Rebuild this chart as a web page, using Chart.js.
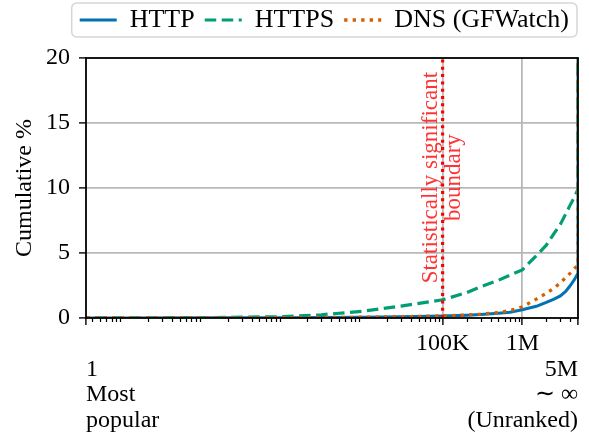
<!DOCTYPE html>
<html>
<head>
<meta charset="utf-8">
<script src="https://cdn.jsdelivr.net/npm/chart.js@4.4.1/dist/chart.umd.min.js"></script>
<style>
  html, body { margin: 0; padding: 0; background: #fff; }
  #wrap { width: 589px; height: 433px; position: relative; }
</style>
</head>
<body>
<div id="wrap"><canvas id="cdfChart"></canvas></div>
<script>
"use strict";

// Popularity rank (5M = unranked, the curves jump to 100% there)
const ranks    = [1, 10, 100, 1000, 3000, 1e4, 3e4, 1e5, 2e5, 3e5, 5e5, 7e5, 1e6, 1.5e6, 2e6, 2.5e6, 3e6, 3.5e6, 4e6, 4.5e6, 5e6, 5e6];
const httpPct  = [0, 0, 0.01, 0.02, 0.04, 0.06, 0.1, 0.16, 0.22, 0.27, 0.36, 0.45, 0.64, 0.9, 1.2, 1.45, 1.7, 2.05, 2.5, 2.95, 3.45, 100];
const httpsPct = [0, 0.01, 0.03, 0.1, 0.25, 0.52, 0.92, 1.4, 1.95, 2.4, 2.9, 3.3, 3.7, 4.8, 5.6, 6.5, 7.2, 8.0, 8.7, 9.3, 9.9, 100];
const dnsPct   = [0, 0, 0.01, 0.02, 0.04, 0.06, 0.1, 0.16, 0.23, 0.3, 0.42, 0.57, 0.85, 1.45, 1.9, 2.3, 2.7, 3.1, 3.45, 3.8, 4.05, 100];

const seriesNames = ['HTTP', 'HTTPS', 'DNS (GFWatch)'];
const yTicks = [0, 5, 10, 15, 20];
const xMin = 3.35, xMax = 5e6;
const boundaryRank = 1e5;
const boundaryText = ['Statistically significant', 'boundary'];

// Tick labels on the rank axis
const xTickLabels = new Map([
    [xMin, ['', '1', 'Most', 'popular']],
    [1e5, '100K'],
    [1e6, '1M'],
    [xMax, ['', '5M', '\u223C \u221E', '(Unranked)']]
]);

// Minor log ticks (2..9 x 10^n) inside the range
const minorTicks = [];
for (let n = 0; n <= 6; n++) {
    for (let k = 2; k <= 9; k++) {
        const v = k * Math.pow(10, n);
        if (v > xMin && v < xMax && !xTickLabels.has(v)) minorTicks.push(v);
    }
}
const allXTicks = [...xTickLabels.keys(), ...minorTicks].sort((a, b) => a - b);

const FONT = "'Liberation Serif', 'Times New Roman', serif";
Chart.defaults.font.family = FONT;
Chart.defaults.color = '#000';

const toPoints = vals => ranks.map((r, i) => ({ x: r, y: vals[i] }));

const gridGray = '#b9b9b9';

// Extra space between legend and plot, plus some slack on the right
const legendGap = {
    id: 'legendGap',
    beforeInit(chart) {
        const fit = chart.legend.fit;
        chart.legend.fit = function() {
            fit.call(this);
            this.height += 15;
            if (this.lineWidths && this.lineWidths.length) this.lineWidths[0] += 10;
        };
    }
};

const decorations = {
    id: 'decorations',
    afterDraw(chart) {
        const ctx = chart.ctx;
        const area = chart.chartArea;
        const xs = chart.scales.x;
        const ys = chart.scales.y;
        ctx.save();

        // minor ticks
        ctx.strokeStyle = '#000';
        ctx.lineWidth = 1.2;
        ctx.beginPath();
        minorTicks.forEach(v => {
            const px = Math.round(xs.getPixelForValue(v)) + 0.5;
            ctx.moveTo(px, area.bottom);
            ctx.lineTo(px, area.bottom + 4);
        });
        ctx.stroke();

        // boundary annotation
        const bx = xs.getPixelForValue(boundaryRank);
        const by = ys.getPixelForValue(10.8);
        ctx.save();
        ctx.translate(bx, by);
        ctx.rotate(-Math.PI / 2);
        ctx.fillStyle = 'rgba(255, 0, 0, 0.8)';
        ctx.font = '23px ' + FONT;
        ctx.textAlign = 'center';
        ctx.textBaseline = 'middle';
        ctx.fillText(boundaryText[0], 0, -11.5);
        ctx.fillText(boundaryText[1], 0, 11.5);
        ctx.restore();

        // spines
        ctx.strokeStyle = '#000';
        ctx.lineWidth = 1.8;
        ctx.strokeRect(area.left, area.top, area.right - area.left, area.bottom - area.top);

        // legend frame
        const boxes = chart.legend.legendHitBoxes;
        if (boxes && boxes.length) {
            const first = boxes[0], last = boxes[boxes.length - 1];
            const cy = first.top + first.height / 2;
            const x0 = first.left - 8;
            const x1 = last.left + last.width + 8;
            ctx.strokeStyle = '#d6d6d6';
            ctx.lineWidth = 1.5;
            ctx.beginPath();
            ctx.roundRect(x0, cy - 17, x1 - x0, 34, 5);
            ctx.stroke();
        }
        ctx.restore();
    }
};

const ctx = document.getElementById('cdfChart');
new Chart(ctx, {
    type: 'line',
    data: {
        datasets: [
            {
                label: seriesNames[0],
                data: toPoints(httpPct),
                borderColor: '#0173b2',
                borderWidth: 3,
                pointRadius: 0,
                order: 3
            },
            {
                label: seriesNames[1],
                data: toPoints(httpsPct),
                borderColor: '#029e73',
                borderWidth: 3.2,
                borderDash: [11.5, 5.5],
                pointRadius: 0,
                order: 2
            },
            {
                label: seriesNames[2],
                data: toPoints(dnsPct),
                borderColor: '#d55e00',
                borderWidth: 3.3,
                borderDash: [3.3, 5.2],
                pointRadius: 0,
                order: 1
            },
            {
                label: 'boundary',
                data: [{ x: boundaryRank, y: yTicks[0] }, { x: boundaryRank, y: yTicks[yTicks.length - 1] }],
                borderColor: '#ff0000',
                borderWidth: 3.2,
                borderDash: [3, 4.3],
                pointRadius: 0,
                order: 0
            }
        ]
    },
    options: {
        responsive: true,
        maintainAspectRatio: false,
        animation: false,
        layout: {
            padding: { top: -3, right: 0, left: 0, bottom: 0 }
        },
        plugins: {
            legend: {
                display: true,
                position: 'top',
                align: 'end',
                labels: {
                    usePointStyle: true,
                    pointStyle: 'line',
                    pointStyleWidth: 37,
                    padding: 10,
                    font: { size: 26, family: FONT },
                    filter: item => item.datasetIndex < 3,
                    sort: (a, b) => a.datasetIndex - b.datasetIndex,
                    generateLabels: function(chart) {
                        const items = Chart.defaults.plugins.legend.labels.generateLabels(chart);
                        items.forEach(item => {
                            const ds = chart.data.datasets[item.datasetIndex];
                            item.lineDash = ds.borderDash || [];
                            item.lineWidth = ds.borderWidth;
                            item.strokeStyle = ds.borderColor;
                        });
                        return items;
                    }
                }
            },
            tooltip: { enabled: false }
        },
        scales: {
            x: {
                type: 'logarithmic',
                min: xMin,
                max: xMax,
                afterBuildTicks: scale => {
                    scale.ticks = allXTicks.map(v => ({ value: v }));
                },
                afterFit: scale => {
                    scale.height = 115;
                    scale.paddingRight = 11;
                },
                border: { display: false },
                grid: {
                    color: c => (c.tick && (c.tick.value === 1e5 || c.tick.value === 1e6)) ? gridGray : 'transparent',
                    lineWidth: 1.8,
                    drawTicks: true,
                    tickLength: 7,
                    tickWidth: 1.4,
                    tickColor: c => (c.tick && xTickLabels.has(c.tick.value)) ? '#000' : 'transparent'
                },
                ticks: {
                    autoSkip: false,
                    maxRotation: 0,
                    minRotation: 0,
                    align: 'inner',
                    padding: 6,
                    font: { size: 24, lineHeight: '25.5px' },
                    callback: value => xTickLabels.has(value) ? xTickLabels.get(value) : ''
                }
            },
            y: {
                min: yTicks[0],
                max: yTicks[yTicks.length - 1],
                afterBuildTicks: scale => {
                    scale.ticks = yTicks.map(v => ({ value: v }));
                },
                afterFit: scale => { scale.width = 86; },
                border: { display: false },
                grid: {
                    color: c => (c.tick && (c.tick.value === 0 || c.tick.value === 20)) ? 'transparent' : gridGray,
                    lineWidth: 1.8,
                    tickLength: 7,
                    tickWidth: 1.4,
                    tickColor: '#000'
                },
                ticks: {
                    padding: 9,
                    font: { size: 24 },
                    callback: value => String(value)
                },
                title: {
                    display: true,
                    text: 'Cumulative %',
                    font: { size: 24 },
                    padding: { top: 10, bottom: 0 }
                }
            }
        }
    },
    plugins: [legendGap, decorations]
});
</script>
</body>
</html>
